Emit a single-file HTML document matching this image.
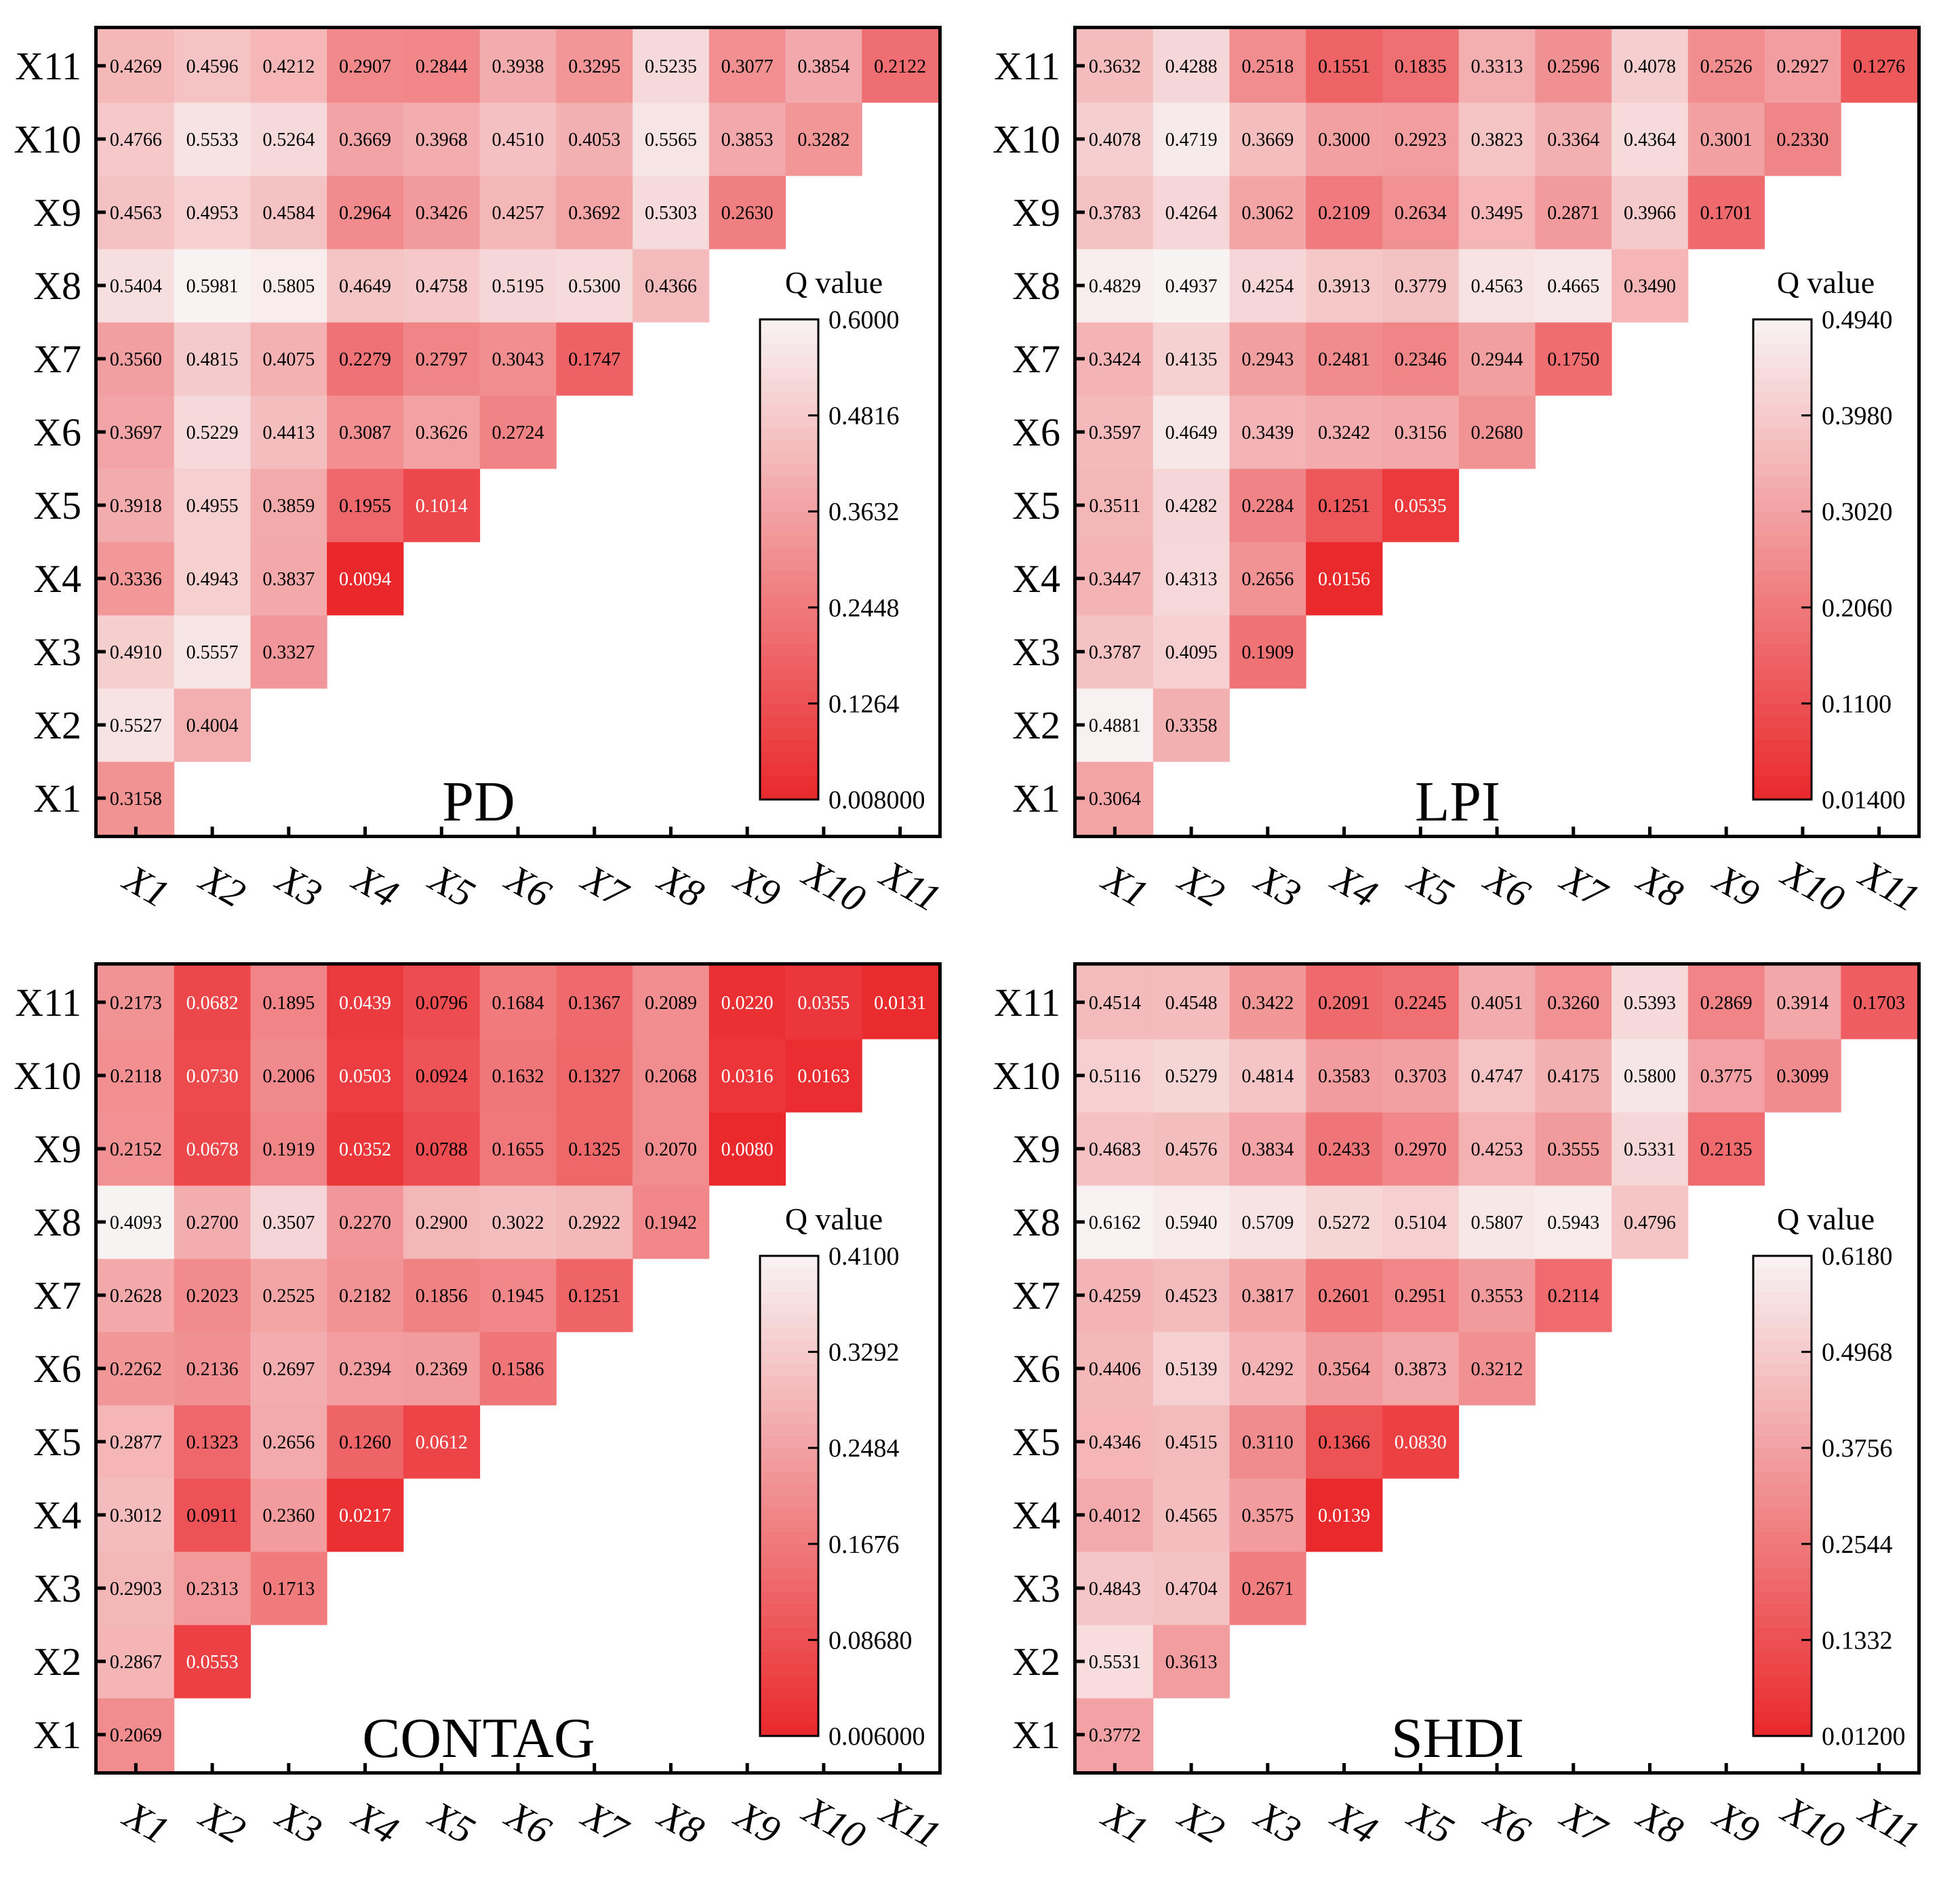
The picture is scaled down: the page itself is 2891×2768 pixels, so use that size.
<!DOCTYPE html>
<html><head><meta charset="utf-8">
<style>
html,body{margin:0;padding:0;background:#fff;}
svg{display:block;}
text{font-family:"Liberation Serif","Times New Roman",serif;}
</style></head>
<body>
<svg id="chart" width="2891" height="2768" viewBox="0 0 2891 2768" xmlns="http://www.w3.org/2000/svg" fill="#000"></svg>
<script>
const categories = ["X1","X2","X3","X4","X5","X6","X7","X8","X9","X10","X11"];
const panelTitles = ["PD","LPI","CONTAG","SHDI"];
// rows listed from X1 (bottom) to X11 (top); row i has i+1 values for X1..X(i+1)
const pdValues = [
 [0.3158],
 [0.5527,0.4004],
 [0.4910,0.5557,0.3327],
 [0.3336,0.4943,0.3837,0.0094],
 [0.3918,0.4955,0.3859,0.1955,0.1014],
 [0.3697,0.5229,0.4413,0.3087,0.3626,0.2724],
 [0.3560,0.4815,0.4075,0.2279,0.2797,0.3043,0.1747],
 [0.5404,0.5981,0.5805,0.4649,0.4758,0.5195,0.5300,0.4366],
 [0.4563,0.4953,0.4584,0.2964,0.3426,0.4257,0.3692,0.5303,0.2630],
 [0.4766,0.5533,0.5264,0.3669,0.3968,0.4510,0.4053,0.5565,0.3853,0.3282],
 [0.4269,0.4596,0.4212,0.2907,0.2844,0.3938,0.3295,0.5235,0.3077,0.3854,0.2122]
];
const lpiValues = [
 [0.3064],
 [0.4881,0.3358],
 [0.3787,0.4095,0.1909],
 [0.3447,0.4313,0.2656,0.0156],
 [0.3511,0.4282,0.2284,0.1251,0.0535],
 [0.3597,0.4649,0.3439,0.3242,0.3156,0.2680],
 [0.3424,0.4135,0.2943,0.2481,0.2346,0.2944,0.1750],
 [0.4829,0.4937,0.4254,0.3913,0.3779,0.4563,0.4665,0.3490],
 [0.3783,0.4264,0.3062,0.2109,0.2634,0.3495,0.2871,0.3966,0.1701],
 [0.4078,0.4719,0.3669,0.3000,0.2923,0.3823,0.3364,0.4364,0.3001,0.2330],
 [0.3632,0.4288,0.2518,0.1551,0.1835,0.3313,0.2596,0.4078,0.2526,0.2927,0.1276]
];
const contagValues = [
 [0.2069],
 [0.2867,0.0553],
 [0.2903,0.2313,0.1713],
 [0.3012,0.0911,0.2360,0.0217],
 [0.2877,0.1323,0.2656,0.1260,0.0612],
 [0.2262,0.2136,0.2697,0.2394,0.2369,0.1586],
 [0.2628,0.2023,0.2525,0.2182,0.1856,0.1945,0.1251],
 [0.4093,0.2700,0.3507,0.2270,0.2900,0.3022,0.2922,0.1942],
 [0.2152,0.0678,0.1919,0.0352,0.0788,0.1655,0.1325,0.2070,0.0080],
 [0.2118,0.0730,0.2006,0.0503,0.0924,0.1632,0.1327,0.2068,0.0316,0.0163],
 [0.2173,0.0682,0.1895,0.0439,0.0796,0.1684,0.1367,0.2089,0.0220,0.0355,0.0131]
];
const shdiValues = [
 [0.3772],
 [0.5531,0.3613],
 [0.4843,0.4704,0.2671],
 [0.4012,0.4565,0.3575,0.0139],
 [0.4346,0.4515,0.3110,0.1366,0.0830],
 [0.4406,0.5139,0.4292,0.3564,0.3873,0.3212],
 [0.4259,0.4523,0.3817,0.2601,0.2951,0.3553,0.2114],
 [0.6162,0.5940,0.5709,0.5272,0.5104,0.5807,0.5943,0.4796],
 [0.4683,0.4576,0.3834,0.2433,0.2970,0.4253,0.3555,0.5331,0.2135],
 [0.5116,0.5279,0.4814,0.3583,0.3703,0.4747,0.4175,0.5800,0.3775,0.3099],
 [0.4514,0.4548,0.3422,0.2091,0.2245,0.4051,0.3260,0.5393,0.2869,0.3914,0.1703]
];
const pdTicks = ["0.6000","0.4816","0.3632","0.2448","0.1264","0.008000"];
const lpiTicks = ["0.4940","0.3980","0.3020","0.2060","0.1100","0.01400"];
const contagTicks = ["0.4100","0.3292","0.2484","0.1676","0.08680","0.006000"];
const shdiTicks = ["0.6180","0.4968","0.3756","0.2544","0.1332","0.01200"];

const NS = "http://www.w3.org/2000/svg";
const svg = document.getElementById("chart");
function mk(tag, attrs, parent){
  const e = document.createElementNS(NS, tag);
  for (const k in attrs) e.setAttribute(k, attrs[k]);
  (parent||svg).appendChild(e);
  return e;
}
function colorFor(t){
  t = Math.max(0, Math.min(1, t));
  const r = Math.round(234 + (248-234)*t);
  const g = Math.round(40 + (243-40)*t);
  const b = Math.round(44 + (243-44)*t);
  return `rgb(${r},${g},${b})`;
}
const panels = [
  {x:139, y:38, vals:pdValues, ticks:pdTicks, title:panelTitles[0], cbx:982, qx:1091},
  {x:1583, y:38, vals:lpiValues, ticks:lpiTicks, title:panelTitles[1], cbx:1003, qx:1110},
  {x:139, y:1419, vals:contagValues, ticks:contagTicks, title:panelTitles[2], cbx:982, qx:1091},
  {x:1583, y:1419, vals:shdiValues, ticks:shdiTicks, title:panelTitles[3], cbx:1003, qx:1110}
];
const W = 1250, H = 1198, BW = 5;
panels.forEach((p) => {
  const vmax = parseFloat(p.ticks[0]);
  const vmin = parseFloat(p.ticks[p.ticks.length-1]);
  const scale = v => (v - vmin) / (vmax - vmin);
  const g = mk("g", {});
  
  
  const ix = p.x + BW, iy = p.y + BW, iw = W - 2*BW, ih = H - 2*BW;
  const n = categories.length;
  const cw = iw / n, ch = ih / n;
  const xc = c => ix + cw*(c+0.5);
  const yc = r => iy + ch*(n - 1 - r + 0.5);
  p.vals.forEach((row, r) => {
    row.forEach((v, c) => {
      const rect = mk("rect", {x: ix + cw*c, y: iy + ch*(n-1-r), width: cw+0.5, height: ch+0.5, fill: colorFor(scale(v))}, g);
      
      
      const t = mk("text", {x: xc(c), y: yc(r) + 10, "text-anchor": "middle", "font-size": 28, fill: scale(v) < 0.17 ? "#ffffff" : "#000000"}, g);
      t.textContent = v.toFixed(4);
      
      
    });
  });
  const fr = mk("rect", {x: p.x + BW/2, y: p.y + BW/2, width: W - BW, height: H - BW, fill: "none", stroke: "#000", "stroke-width": BW}, g);
  
  
  categories.forEach((cat, i) => {
    const ty = yc(i);
    const tl = mk("line", {x1: ix, x2: ix + 12, y1: ty, y2: ty, stroke: "#000", "stroke-width": 5}, g);
    
    
    const yl = mk("text", {x: p.x - 19, y: ty + 20, "text-anchor": "end", "font-size": 58}, g);
    yl.textContent = cat;
    
    
    const tx = xc(i);
    const bt = mk("line", {x1: tx, x2: tx, y1: p.y + H - BW, y2: p.y + H - BW - 12, stroke: "#000", "stroke-width": 5}, g);
    
    
    const lx = tx + 15, ly = p.y + H + 72;
    const xl = mk("text", {x: lx, y: ly + 18, "text-anchor": "middle", "font-size": 58, "font-style": "italic", transform: `rotate(30 ${lx} ${ly})`}, g);
    xl.textContent = cat;
    
    
  });
  const tt = mk("text", {x: p.x + 567, y: p.y + 1172, "text-anchor": "middle", "font-size": 84}, g);
  tt.textContent = p.title;
  
  
  const cbx = p.x + p.cbx, cbt = p.y + 433, cbb = p.y + 1141, cbw = 86;
  const steps = 40;
  for (let s = 0; s < steps; s++) {
    const y0 = cbt + (cbb - cbt) * s / steps;
    const band = mk("rect", {x: cbx, y: y0, width: cbw, height: (cbb-cbt)/steps + 0.6, fill: colorFor(1 - (s + 0.5)/steps)}, g);
    
    
  }
  const cbf = mk("rect", {x: cbx, y: cbt, width: cbw, height: cbb - cbt, fill: "none", stroke: "#000", "stroke-width": 3}, g);
  
  
  p.ticks.forEach((lab, k) => {
    const yy = cbt + (cbb - cbt) * k / (p.ticks.length - 1);
    if (k > 0 && k < p.ticks.length - 1) {
      const ct = mk("line", {x1: cbx + cbw - 15, x2: cbx + cbw, y1: yy, y2: yy, stroke: "#000", "stroke-width": 3}, g);
      
      
    }
    const cl = mk("text", {x: cbx + cbw + 15, y: yy + 13, "font-size": 38}, g);
    cl.textContent = lab;
    
    
  });
  const q = mk("text", {x: p.x + p.qx, y: p.y + 394, "text-anchor": "middle", "font-size": 46}, g);
  q.textContent = "Q value";
  
  
});
</script>
</body></html>
